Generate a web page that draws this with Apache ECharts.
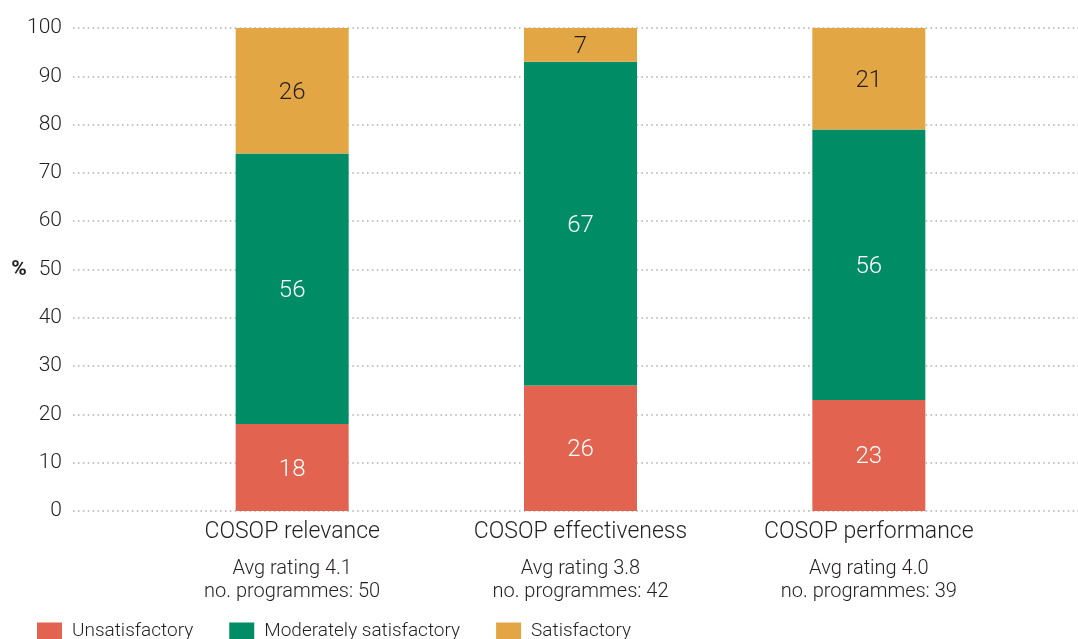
<!DOCTYPE html>
<html>
<head>
<meta charset="utf-8">
<title>COSOP ratings</title>
<script src="https://cdn.jsdelivr.net/npm/echarts@6/dist/echarts.min.js"></script>
<style>
  html, body { margin: 0; padding: 0; background: #fff; }
  #chart { width: 1078px; height: 639px; }
</style>
</head>
<body>
<div id="chart"></div>
<script>
// Share of programmes by rating band, in percent
const categories = ['COSOP relevance', 'COSOP effectiveness', 'COSOP performance'];
const avgRatings = ['4.1', '3.8', '4.0'];
const programmeCounts = [50, 42, 39];
const unsatisfactory = [18, 26, 23];
const moderatelySatisfactory = [56, 67, 56];
const satisfactory = [26, 7, 21];
const yTicks = [0, 10, 20, 30, 40, 50, 60, 70, 80, 90, 100];

const FONT = 'Roboto, "Liberation Sans", sans-serif';
const TEXT = '#231f20';

const chart = echarts.init(document.getElementById('chart'), null, { renderer: 'canvas' });

function barSeries(name, data, color, labelColor) {
  return {
    name: name,
    type: 'bar',
    stack: 'total',
    xAxisIndex: 1,
    yAxisIndex: 1,
    barWidth: 113,
    data: data,
    itemStyle: { color: color },
    emphasis: { disabled: true },
    label: {
      show: true,
      position: 'inside',
      offset: [0, 2],
      color: labelColor,
      fontFamily: FONT,
      fontWeight: 300,
      fontSize: 24
    }
  };
}

chart.setOption({
  animation: false,
  backgroundColor: '#ffffff',
  textStyle: { fontFamily: FONT },
  grid: [
    // full-width grid carrying the value axis and its dotted guide lines
    { left: 73, right: 0, top: 28, bottom: 128 },
    // narrower grid in which the bars are placed
    { left: 148, right: 65, top: 28, bottom: 128 }
  ],
  legend: {
    left: 37,
    top: 622,
    padding: 0,
    itemWidth: 25,
    itemHeight: 18,
    itemGap: 36,
    icon: 'rect',
    selectedMode: false,
    textStyle: {
      fontFamily: FONT,
      fontWeight: 300,
      fontSize: 19,
      color: TEXT,
      padding: [0, 0, 0, 5]
    },
    data: ['Unsatisfactory', 'Moderately satisfactory', 'Satisfactory']
  },
  xAxis: [
    {
      gridIndex: 0,
      type: 'value',
      min: 0,
      max: 1,
      show: false
    },
    {
      gridIndex: 1,
      type: 'category',
      data: categories,
      axisLine: { show: false },
      axisTick: { show: false },
      axisLabel: {
        margin: 8,
        interval: 0,
        formatter: function (value, idx) {
          return '{a|' + value + '}\n{s| }\n{b|Avg rating ' + avgRatings[idx] + '}\n{b|no. programmes: ' + programmeCounts[idx] + '}';
        },
        rich: {
          a: { fontFamily: FONT, fontWeight: 300, fontSize: 23, lineHeight: 26, color: TEXT },
          s: { fontSize: 2, lineHeight: 12 },
          b: { fontFamily: FONT, fontWeight: 300, fontSize: 20, lineHeight: 23, color: TEXT }
        }
      }
    }
  ],
  yAxis: [
    {
      gridIndex: 0,
      type: 'value',
      min: yTicks[0],
      max: yTicks[yTicks.length - 1],
      interval: yTicks[1] - yTicks[0],
      name: '%',
      nameLocation: 'middle',
      nameRotate: 0,
      nameGap: 54,
      nameMoveOverlap: false,
      nameTextStyle: { fontFamily: FONT, fontWeight: 'bold', fontSize: 21, color: TEXT, align: 'center' },
      axisLine: { show: false },
      axisTick: { show: false },
      axisLabel: {
        margin: 11,
        fontFamily: FONT,
        fontWeight: 300,
        fontSize: 21,
        color: TEXT
      },
      splitLine: {
        show: true,
        lineStyle: { color: '#b3b3b3', width: 1.6, type: [1.6, 3.3] }
      }
    },
    {
      gridIndex: 1,
      type: 'value',
      min: yTicks[0],
      max: yTicks[yTicks.length - 1],
      interval: yTicks[1] - yTicks[0],
      show: false,
      splitLine: { show: false }
    }
  ],
  series: [
    barSeries('Unsatisfactory', unsatisfactory, '#e16350', '#ffffff'),
    barSeries('Moderately satisfactory', moderatelySatisfactory, '#008d66', '#ffffff'),
    barSeries('Satisfactory', satisfactory, '#e3a645', TEXT)
  ]
});
</script>
</body>
</html>
